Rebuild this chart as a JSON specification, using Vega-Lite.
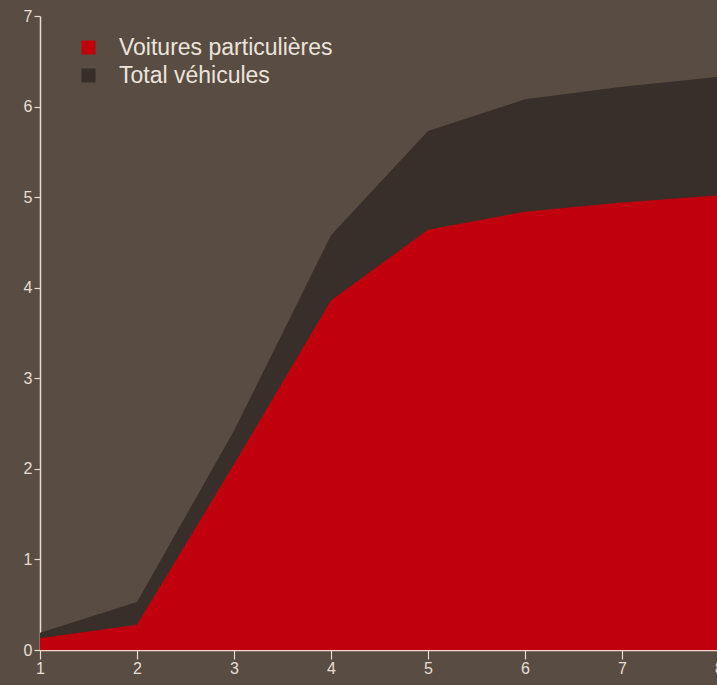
{
  "$schema": "https://vega.github.io/schema/vega-lite/v6.json",
  "width": 679,
  "height": 634,
  "autosize": {"type": "none"},
  "padding": {"left": 40, "top": 16, "right": 0, "bottom": 35},
  "background": "#594d43",
  "config": {
    "view": {"stroke": null, "fill": "#594d43"},
    "font": "Liberation Sans",
    "axis": {"labelColor": "#e6ded6", "labelFontSize": 16, "domainColor": "#e8dcd2", "tickColor": "#e8dcd2", "grid": false, "title": null, "domainWidth": 1.5, "tickWidth": 1.2}
  },
  "data": {"values": [
    {"x": 1, "serie": "Total véhicules", "v": 0.19},
    {"x": 2, "serie": "Total véhicules", "v": 0.53},
    {"x": 3, "serie": "Total véhicules", "v": 2.42},
    {"x": 4, "serie": "Total véhicules", "v": 4.58},
    {"x": 5, "serie": "Total véhicules", "v": 5.73},
    {"x": 6, "serie": "Total véhicules", "v": 6.08},
    {"x": 7, "serie": "Total véhicules", "v": 6.22},
    {"x": 8, "serie": "Total véhicules", "v": 6.33},
    {"x": 1, "serie": "Voitures particulières", "v": 0.13},
    {"x": 2, "serie": "Voitures particulières", "v": 0.28},
    {"x": 3, "serie": "Voitures particulières", "v": 2.05},
    {"x": 4, "serie": "Voitures particulières", "v": 3.86},
    {"x": 5, "serie": "Voitures particulières", "v": 4.64},
    {"x": 6, "serie": "Voitures particulières", "v": 4.84},
    {"x": 7, "serie": "Voitures particulières", "v": 4.94},
    {"x": 8, "serie": "Voitures particulières", "v": 5.02}
  ]},
  "mark": {"type": "area", "opacity": 1, "interpolate": "linear"},
  "encoding": {
    "x": {"field": "x", "type": "quantitative", "scale": {"domain": [1, 8], "nice": false, "zero": false},
      "axis": {"values": [1, 2, 3, 4, 5, 6, 7, 8], "tickSize": 9, "labelPadding": 1, "domainColor": "#f4d4d0", "format": "d", "labelFlush": false}},
    "y": {"field": "v", "type": "quantitative", "stack": null, "scale": {"domain": [0, 7], "nice": false},
      "axis": {"values": [0, 1, 2, 3, 4, 5, 6, 7], "tickSize": 6, "labelPadding": 2, "labelFlush": false}},
    "color": {"field": "serie", "type": "nominal",
      "scale": {"domain": ["Voitures particulières", "Total véhicules"], "range": ["#c0000c", "#382e2a"]},
      "legend": {"title": null, "orient": "none", "legendX": 37, "legendY": 20, "symbolType": "square", "symbolSize": 196, "symbolStrokeWidth": 0, "symbolOpacity": 1, "labelFontSize": 23, "labelLimit": 500, "labelColor": "#ece4dc", "labelOffset": 19, "rowPadding": 4}
    },
    "order": {"field": "serie", "sort": "ascending"}
  }
}
